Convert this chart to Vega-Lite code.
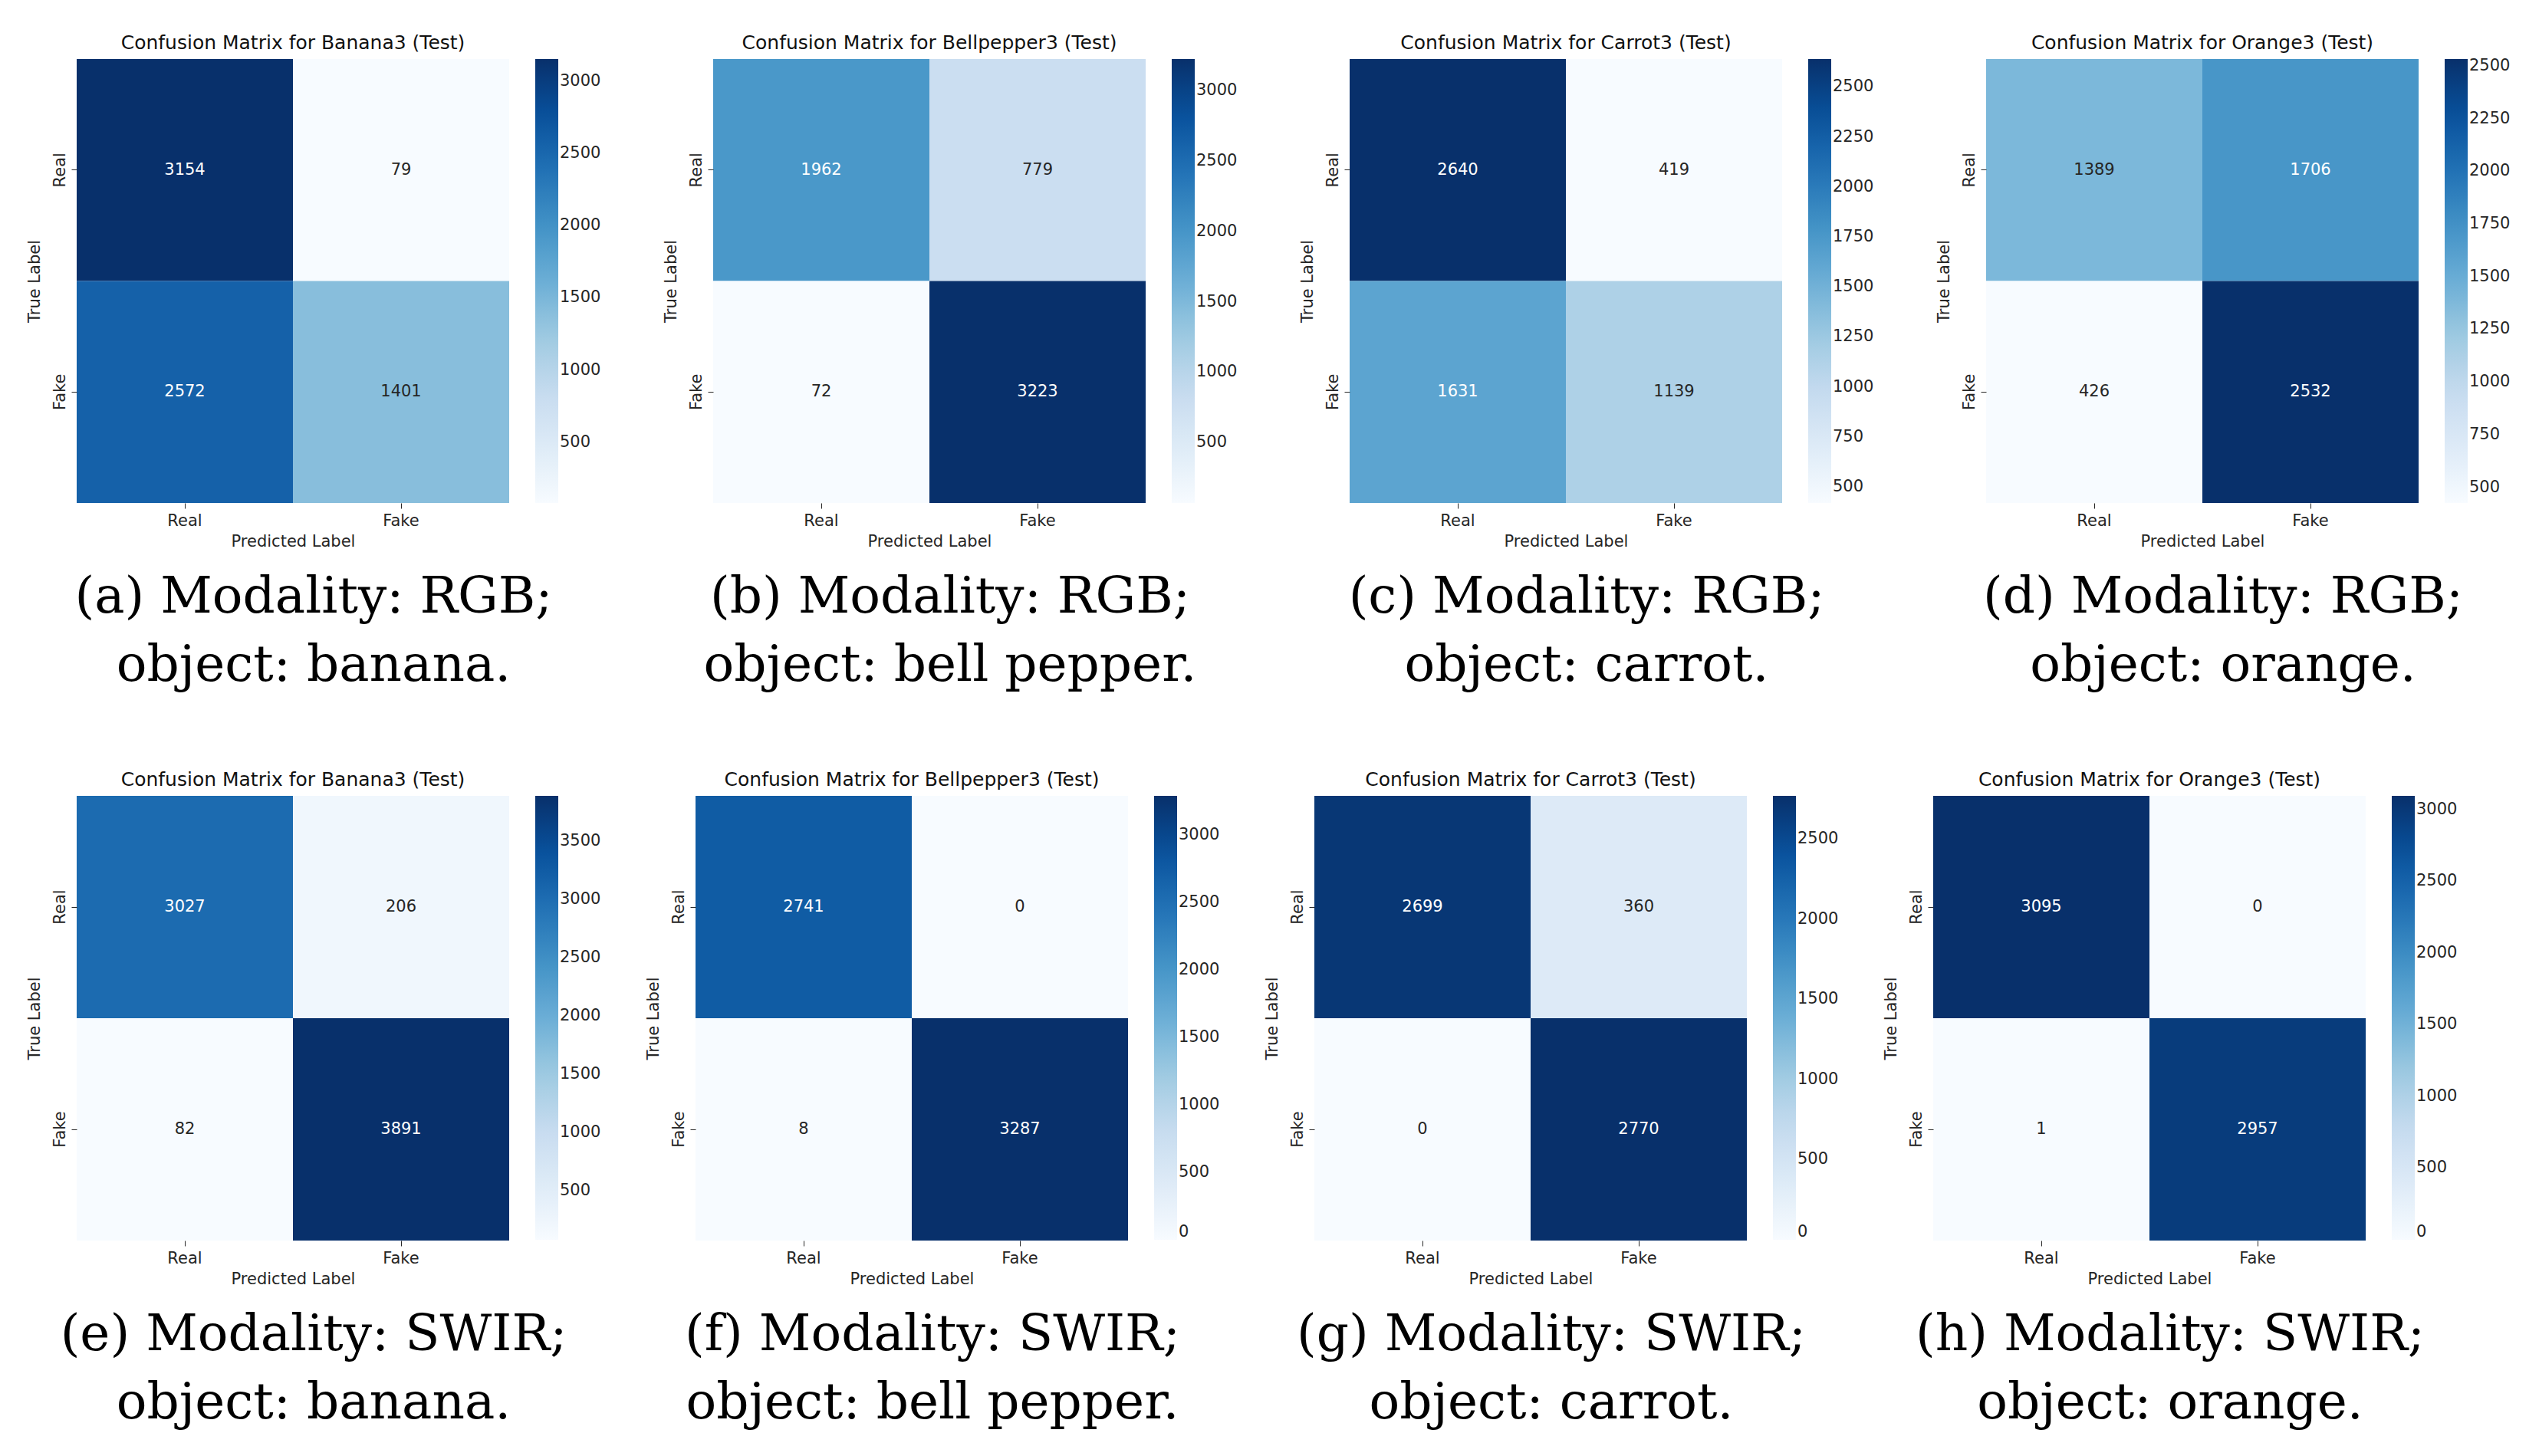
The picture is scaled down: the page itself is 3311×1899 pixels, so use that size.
{
  "$schema": "https://vega.github.io/schema/vega-lite/v6.json",
  "background": "white",
  "padding": {"left": 34, "top": 44, "right": 5, "bottom": 5},
  "data": {"values": [
    {"p": "a", "t": "Real", "pr": "Real", "v": 3154}, {"p": "a", "t": "Real", "pr": "Fake", "v": 79}, {"p": "a", "t": "Fake", "pr": "Real", "v": 2572}, {"p": "a", "t": "Fake", "pr": "Fake", "v": 1401},
    {"p": "b", "t": "Real", "pr": "Real", "v": 1962}, {"p": "b", "t": "Real", "pr": "Fake", "v": 779}, {"p": "b", "t": "Fake", "pr": "Real", "v": 72}, {"p": "b", "t": "Fake", "pr": "Fake", "v": 3223},
    {"p": "c", "t": "Real", "pr": "Real", "v": 2640}, {"p": "c", "t": "Real", "pr": "Fake", "v": 419}, {"p": "c", "t": "Fake", "pr": "Real", "v": 1631}, {"p": "c", "t": "Fake", "pr": "Fake", "v": 1139},
    {"p": "d", "t": "Real", "pr": "Real", "v": 1389}, {"p": "d", "t": "Real", "pr": "Fake", "v": 1706}, {"p": "d", "t": "Fake", "pr": "Real", "v": 426}, {"p": "d", "t": "Fake", "pr": "Fake", "v": 2532},
    {"p": "e", "t": "Real", "pr": "Real", "v": 3027}, {"p": "e", "t": "Real", "pr": "Fake", "v": 206}, {"p": "e", "t": "Fake", "pr": "Real", "v": 82}, {"p": "e", "t": "Fake", "pr": "Fake", "v": 3891},
    {"p": "f", "t": "Real", "pr": "Real", "v": 2741}, {"p": "f", "t": "Real", "pr": "Fake", "v": 0}, {"p": "f", "t": "Fake", "pr": "Real", "v": 8}, {"p": "f", "t": "Fake", "pr": "Fake", "v": 3287},
    {"p": "g", "t": "Real", "pr": "Real", "v": 2699}, {"p": "g", "t": "Real", "pr": "Fake", "v": 360}, {"p": "g", "t": "Fake", "pr": "Real", "v": 0}, {"p": "g", "t": "Fake", "pr": "Fake", "v": 2770},
    {"p": "h", "t": "Real", "pr": "Real", "v": 3095}, {"p": "h", "t": "Real", "pr": "Fake", "v": 0}, {"p": "h", "t": "Fake", "pr": "Real", "v": 1}, {"p": "h", "t": "Fake", "pr": "Fake", "v": 2957}
  ]},
  "spacing": 104,
  "resolve": {"scale": {"color": "independent"}, "legend": {"color": "independent"}},
  "vconcat": [
    {
      "spacing": 80,
      "resolve": {"scale": {"color": "independent"}, "legend": {"color": "independent"}},
      "hconcat": [
        {"title": {"text": ["(a) Modality: RGB;", "object: banana."]},
         "resolve": {"scale": {"color": "independent"}, "legend": {"color": "independent"}},
         "vconcat": [{
          "width": 564, "height": 579,
          "title": {"text": "Confusion Matrix for Banana3 (Test)", "style": "paneltitle", "orient": "top", "baseline": "bottom", "offset": -17, "lineHeight": 26},
          "transform": [{"filter": "datum.p == 'a'"}, {"joinaggregate": [{"op": "min", "field": "v", "as": "mn"}, {"op": "max", "field": "v", "as": "mx"}]}],
          "encoding": {"x": {"field": "pr", "type": "nominal", "sort": ["Real", "Fake"], "title": "Predicted Label"}, "y": {"field": "t", "type": "nominal", "sort": ["Real", "Fake"], "title": "True Label"}},
          "layer": [
            {"mark": "rect", "encoding": {"color": {"field": "v", "type": "quantitative", "scale": {"domain": [79, 463.375, 847.75, 1232.125, 1616.5, 2000.875, 2385.25, 2769.625, 3154], "range": ["#f7fbff", "#deebf7", "#c6dbef", "#9ecae1", "#6baed6", "#4292c6", "#2171b5", "#08519c", "#08306b"], "interpolate": "rgb"}, "legend": {"title": null, "format": "d", "values": [500, 1000, 1500, 2000, 2500, 3000]}}}},
            {"mark": "text", "encoding": {"text": {"field": "v", "type": "quantitative", "format": "d"}, "color": {"condition": {"test": "(datum.v - datum.mn) / (datum.mx - datum.mn) > 0.5", "value": "white"}, "value": "#262626"}}}
          ]}]},
        {"title": {"text": ["(b) Modality: RGB;", "object: bell pepper."]},
         "resolve": {"scale": {"color": "independent"}, "legend": {"color": "independent"}},
         "vconcat": [{
          "width": 564, "height": 579,
          "title": {"text": "Confusion Matrix for Bellpepper3 (Test)", "style": "paneltitle", "orient": "top", "baseline": "bottom", "offset": -17, "lineHeight": 26},
          "transform": [{"filter": "datum.p == 'b'"}, {"joinaggregate": [{"op": "min", "field": "v", "as": "mn"}, {"op": "max", "field": "v", "as": "mx"}]}],
          "encoding": {"x": {"field": "pr", "type": "nominal", "sort": ["Real", "Fake"], "title": "Predicted Label"}, "y": {"field": "t", "type": "nominal", "sort": ["Real", "Fake"], "title": "True Label"}},
          "layer": [
            {"mark": "rect", "encoding": {"color": {"field": "v", "type": "quantitative", "scale": {"domain": [72, 465.875, 859.75, 1253.625, 1647.5, 2041.375, 2435.25, 2829.125, 3223], "range": ["#f7fbff", "#deebf7", "#c6dbef", "#9ecae1", "#6baed6", "#4292c6", "#2171b5", "#08519c", "#08306b"], "interpolate": "rgb"}, "legend": {"title": null, "format": "d", "values": [500, 1000, 1500, 2000, 2500, 3000]}}}},
            {"mark": "text", "encoding": {"text": {"field": "v", "type": "quantitative", "format": "d"}, "color": {"condition": {"test": "(datum.v - datum.mn) / (datum.mx - datum.mn) > 0.5", "value": "white"}, "value": "#262626"}}}
          ]}]},
        {"title": {"text": ["(c) Modality: RGB;", "object: carrot."]},
         "resolve": {"scale": {"color": "independent"}, "legend": {"color": "independent"}},
         "vconcat": [{
          "width": 564, "height": 579,
          "title": {"text": "Confusion Matrix for Carrot3 (Test)", "style": "paneltitle", "orient": "top", "baseline": "bottom", "offset": -17, "lineHeight": 26},
          "transform": [{"filter": "datum.p == 'c'"}, {"joinaggregate": [{"op": "min", "field": "v", "as": "mn"}, {"op": "max", "field": "v", "as": "mx"}]}],
          "encoding": {"x": {"field": "pr", "type": "nominal", "sort": ["Real", "Fake"], "title": "Predicted Label"}, "y": {"field": "t", "type": "nominal", "sort": ["Real", "Fake"], "title": "True Label"}},
          "layer": [
            {"mark": "rect", "encoding": {"color": {"field": "v", "type": "quantitative", "scale": {"domain": [419, 696.625, 974.25, 1251.875, 1529.5, 1807.125, 2084.75, 2362.375, 2640], "range": ["#f7fbff", "#deebf7", "#c6dbef", "#9ecae1", "#6baed6", "#4292c6", "#2171b5", "#08519c", "#08306b"], "interpolate": "rgb"}, "legend": {"title": null, "format": "d", "values": [500, 750, 1000, 1250, 1500, 1750, 2000, 2250, 2500]}}}},
            {"mark": "text", "encoding": {"text": {"field": "v", "type": "quantitative", "format": "d"}, "color": {"condition": {"test": "(datum.v - datum.mn) / (datum.mx - datum.mn) > 0.5", "value": "white"}, "value": "#262626"}}}
          ]}]},
        {"title": {"text": ["(d) Modality: RGB;", "object: orange."]},
         "resolve": {"scale": {"color": "independent"}, "legend": {"color": "independent"}},
         "vconcat": [{
          "width": 564, "height": 579,
          "title": {"text": "Confusion Matrix for Orange3 (Test)", "style": "paneltitle", "orient": "top", "baseline": "bottom", "offset": -17, "lineHeight": 26},
          "transform": [{"filter": "datum.p == 'd'"}, {"joinaggregate": [{"op": "min", "field": "v", "as": "mn"}, {"op": "max", "field": "v", "as": "mx"}]}],
          "encoding": {"x": {"field": "pr", "type": "nominal", "sort": ["Real", "Fake"], "title": "Predicted Label"}, "y": {"field": "t", "type": "nominal", "sort": ["Real", "Fake"], "title": "True Label"}},
          "layer": [
            {"mark": "rect", "encoding": {"color": {"field": "v", "type": "quantitative", "scale": {"domain": [426, 689.25, 952.5, 1215.75, 1479, 1742.25, 2005.5, 2268.75, 2532], "range": ["#f7fbff", "#deebf7", "#c6dbef", "#9ecae1", "#6baed6", "#4292c6", "#2171b5", "#08519c", "#08306b"], "interpolate": "rgb"}, "legend": {"title": null, "format": "d", "values": [500, 750, 1000, 1250, 1500, 1750, 2000, 2250, 2500]}}}},
            {"mark": "text", "encoding": {"text": {"field": "v", "type": "quantitative", "format": "d"}, "color": {"condition": {"test": "(datum.v - datum.mn) / (datum.mx - datum.mn) > 0.5", "value": "white"}, "value": "#262626"}}}
          ]}]}
      ]
    },
    {
      "spacing": 57,
      "resolve": {"scale": {"color": "independent"}, "legend": {"color": "independent"}},
      "hconcat": [
        {"title": {"text": ["(e) Modality: SWIR;", "object: banana."]},
         "resolve": {"scale": {"color": "independent"}, "legend": {"color": "independent"}},
         "vconcat": [{
          "width": 564, "height": 580,
          "title": {"text": "Confusion Matrix for Banana3 (Test)", "style": "paneltitle", "orient": "top", "baseline": "bottom", "offset": -17, "lineHeight": 26},
          "transform": [{"filter": "datum.p == 'e'"}, {"joinaggregate": [{"op": "min", "field": "v", "as": "mn"}, {"op": "max", "field": "v", "as": "mx"}]}],
          "encoding": {"x": {"field": "pr", "type": "nominal", "sort": ["Real", "Fake"], "title": "Predicted Label"}, "y": {"field": "t", "type": "nominal", "sort": ["Real", "Fake"], "title": "True Label"}},
          "layer": [
            {"mark": "rect", "encoding": {"color": {"field": "v", "type": "quantitative", "scale": {"domain": [82, 558.125, 1034.25, 1510.375, 1986.5, 2462.625, 2938.75, 3414.875, 3891], "range": ["#f7fbff", "#deebf7", "#c6dbef", "#9ecae1", "#6baed6", "#4292c6", "#2171b5", "#08519c", "#08306b"], "interpolate": "rgb"}, "legend": {"title": null, "format": "d", "values": [500, 1000, 1500, 2000, 2500, 3000, 3500]}}}},
            {"mark": "text", "encoding": {"text": {"field": "v", "type": "quantitative", "format": "d"}, "color": {"condition": {"test": "(datum.v - datum.mn) / (datum.mx - datum.mn) > 0.5", "value": "white"}, "value": "#262626"}}}
          ]}]},
        {"title": {"text": ["(f) Modality: SWIR;", "object: bell pepper."]},
         "resolve": {"scale": {"color": "independent"}, "legend": {"color": "independent"}},
         "vconcat": [{
          "width": 564, "height": 580,
          "title": {"text": "Confusion Matrix for Bellpepper3 (Test)", "style": "paneltitle", "orient": "top", "baseline": "bottom", "offset": -17, "lineHeight": 26},
          "transform": [{"filter": "datum.p == 'f'"}, {"joinaggregate": [{"op": "min", "field": "v", "as": "mn"}, {"op": "max", "field": "v", "as": "mx"}]}],
          "encoding": {"x": {"field": "pr", "type": "nominal", "sort": ["Real", "Fake"], "title": "Predicted Label"}, "y": {"field": "t", "type": "nominal", "sort": ["Real", "Fake"], "title": "True Label"}},
          "layer": [
            {"mark": "rect", "encoding": {"color": {"field": "v", "type": "quantitative", "scale": {"domain": [0, 410.875, 821.75, 1232.625, 1643.5, 2054.375, 2465.25, 2876.125, 3287], "range": ["#f7fbff", "#deebf7", "#c6dbef", "#9ecae1", "#6baed6", "#4292c6", "#2171b5", "#08519c", "#08306b"], "interpolate": "rgb"}, "legend": {"title": null, "format": "d", "values": [0, 500, 1000, 1500, 2000, 2500, 3000]}}}},
            {"mark": "text", "encoding": {"text": {"field": "v", "type": "quantitative", "format": "d"}, "color": {"condition": {"test": "(datum.v - datum.mn) / (datum.mx - datum.mn) > 0.5", "value": "white"}, "value": "#262626"}}}
          ]}]},
        {"title": {"text": ["(g) Modality: SWIR;", "object: carrot."]},
         "resolve": {"scale": {"color": "independent"}, "legend": {"color": "independent"}},
         "vconcat": [{
          "width": 564, "height": 580,
          "title": {"text": "Confusion Matrix for Carrot3 (Test)", "style": "paneltitle", "orient": "top", "baseline": "bottom", "offset": -17, "lineHeight": 26},
          "transform": [{"filter": "datum.p == 'g'"}, {"joinaggregate": [{"op": "min", "field": "v", "as": "mn"}, {"op": "max", "field": "v", "as": "mx"}]}],
          "encoding": {"x": {"field": "pr", "type": "nominal", "sort": ["Real", "Fake"], "title": "Predicted Label"}, "y": {"field": "t", "type": "nominal", "sort": ["Real", "Fake"], "title": "True Label"}},
          "layer": [
            {"mark": "rect", "encoding": {"color": {"field": "v", "type": "quantitative", "scale": {"domain": [0, 346.25, 692.5, 1038.75, 1385, 1731.25, 2077.5, 2423.75, 2770], "range": ["#f7fbff", "#deebf7", "#c6dbef", "#9ecae1", "#6baed6", "#4292c6", "#2171b5", "#08519c", "#08306b"], "interpolate": "rgb"}, "legend": {"title": null, "format": "d", "values": [0, 500, 1000, 1500, 2000, 2500]}}}},
            {"mark": "text", "encoding": {"text": {"field": "v", "type": "quantitative", "format": "d"}, "color": {"condition": {"test": "(datum.v - datum.mn) / (datum.mx - datum.mn) > 0.5", "value": "white"}, "value": "#262626"}}}
          ]}]},
        {"title": {"text": ["(h) Modality: SWIR;", "object: orange."]},
         "resolve": {"scale": {"color": "independent"}, "legend": {"color": "independent"}},
         "vconcat": [{
          "width": 564, "height": 580,
          "title": {"text": "Confusion Matrix for Orange3 (Test)", "style": "paneltitle", "orient": "top", "baseline": "bottom", "offset": -17, "lineHeight": 26},
          "transform": [{"filter": "datum.p == 'h'"}, {"joinaggregate": [{"op": "min", "field": "v", "as": "mn"}, {"op": "max", "field": "v", "as": "mx"}]}],
          "encoding": {"x": {"field": "pr", "type": "nominal", "sort": ["Real", "Fake"], "title": "Predicted Label"}, "y": {"field": "t", "type": "nominal", "sort": ["Real", "Fake"], "title": "True Label"}},
          "layer": [
            {"mark": "rect", "encoding": {"color": {"field": "v", "type": "quantitative", "scale": {"domain": [0, 386.875, 773.75, 1160.625, 1547.5, 1934.375, 2321.25, 2708.125, 3095], "range": ["#f7fbff", "#deebf7", "#c6dbef", "#9ecae1", "#6baed6", "#4292c6", "#2171b5", "#08519c", "#08306b"], "interpolate": "rgb"}, "legend": {"title": null, "format": "d", "values": [0, 500, 1000, 1500, 2000, 2500, 3000]}}}},
            {"mark": "text", "encoding": {"text": {"field": "v", "type": "quantitative", "format": "d"}, "color": {"condition": {"test": "(datum.v - datum.mn) / (datum.mx - datum.mn) > 0.5", "value": "white"}, "value": "#262626"}}}
          ]}]}
      ]
    }
  ],
  "config": {
    "view": {"stroke": null},
    "font": "DejaVu Sans",
    "text": {"font": "DejaVu Sans", "fontSize": 21},
    "rect": {"strokeWidth": 0},
    "axis": {"labelFont": "DejaVu Sans", "labelFontSize": 21, "labelColor": "#262626", "titleFont": "DejaVu Sans", "titleFontSize": 21, "titleFontWeight": "normal", "titleColor": "#262626", "domain": false, "grid": false, "ticks": true, "tickSize": 7, "tickColor": "#262626", "labelPadding": 5},
    "axisX": {"labelAngle": 0, "titlePadding": 6},
    "axisY": {"labelAngle": 270, "titlePadding": 12},
    "legend": {"gradientLength": 579, "gradientThickness": 30, "labelFont": "DejaVu Sans", "labelFontSize": 21, "labelColor": "#262626", "offset": 34, "direction": "vertical", "gradientStrokeWidth": 0, "labelOffset": 16, "padding": 0},
    "title": {"font": "DejaVu Serif", "fontSize": 66, "lineHeight": 89, "fontWeight": "normal", "color": "black", "orient": "bottom", "offset": 31, "anchor": "middle", "baseline": "top"},
    "style": {"paneltitle": {"font": "DejaVu Sans", "fontSize": 25, "fontWeight": "normal", "fill": "#111"}},
    "concat": {"spacing": 0}
  }
}
